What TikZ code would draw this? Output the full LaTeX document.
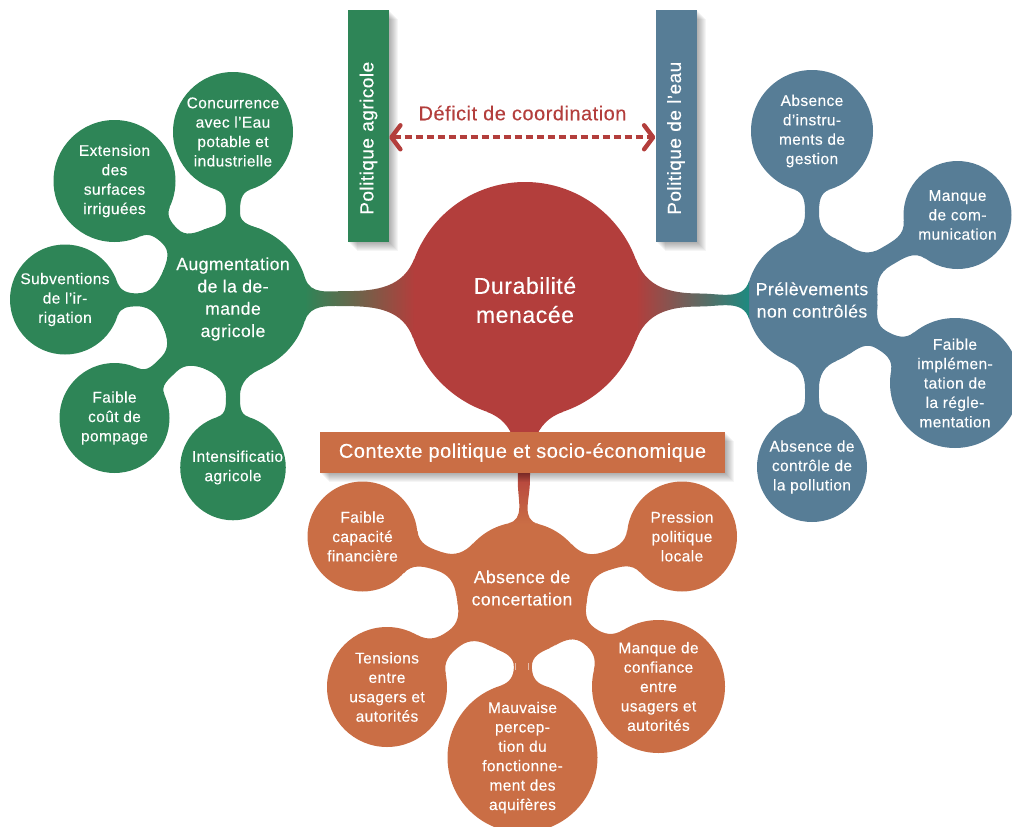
\documentclass[tikz,border=0pt]{standalone}
\usepackage{fontspec}
\setmainfont[FakeBold=0.25,LetterSpace=2.5]{Liberation Sans}
\usetikzlibrary{calc,shadows,arrows.meta}
\definecolor{grn}{HTML}{2E8557}
\definecolor{blu}{HTML}{577D96}
\definecolor{rd}{HTML}{B33E3C}
\definecolor{org}{HTML}{CA6E45}
\definecolor{teal2}{HTML}{1D8A80}
\definecolor{gmid}{HTML}{6E5040}
\definecolor{bmid}{HTML}{5C5558}
\newcommand\neckfill[7]{%
  \path let \p1=(#1.center),\p2=(#2.center),\n1={atan2(\y2-\y1,\x2-\x1)} in \pgfextra{\xdef\nkT{\n1}};
  \pgfmathsetmacro\nkTb{\nkT+180}%
  \pgfmathsetmacro\nkPa{\nkT+#5}\pgfmathsetmacro\nkPb{\nkT-#5}%
  \pgfmathsetmacro\nkQa{\nkT+180-#6}\pgfmathsetmacro\nkQb{\nkT+180+#6}%
  \pgfmathsetmacro\nkOa{\nkT+#5-90}\pgfmathsetmacro\nkIb{\nkT-#5+90}%
  \pgfmathsetmacro\nkIa{\nkT+270-#6}\pgfmathsetmacro\nkOb{\nkT+90+#6}%
  \pgfmathsetmacro\nkUp{\nkT+90}\pgfmathsetmacro\nkDn{\nkT-90}%
  \coordinate (nkm) at ($(#1.\nkT)!#7!(#2.\nkTb)$);
  \coordinate (nkp) at ($(nkm)+(\nkUp:#4/2)$);
  \coordinate (nkn) at ($(nkm)+(\nkDn:#4/2)$);
  \path[#3,looseness=1.05] (#1.\nkPa) to[out=\nkOa,in=\nkTb] (nkp) to[out=\nkT,in=\nkIa] (#2.\nkQa)
    -- (#2.\nkQb) to[out=\nkOb,in=\nkT] (nkn) to[out=\nkTb,in=\nkIb] (#1.\nkPb) -- cycle;
}
\tikzset{
  bub/.style={circle,inner sep=0pt,minimum size=2*#1,text=white,align=center,
     font=\fontsize{15.5}{19.4}\selectfont},
  hub/.style={circle,inner sep=0pt,minimum size=2*#1,text=white,align=center,
     font=\fontsize{17.6}{22.3}\selectfont},
  softshadow/.style={
     general shadow={fill=black,opacity=.04,shadow xshift=1pt,shadow yshift=-1pt},
     general shadow={fill=black,opacity=.04,shadow xshift=2pt,shadow yshift=-2pt},
     general shadow={fill=black,opacity=.04,shadow xshift=3pt,shadow yshift=-3pt},
     general shadow={fill=black,opacity=.04,shadow xshift=4pt,shadow yshift=-4pt},
     general shadow={fill=black,opacity=.04,shadow xshift=5pt,shadow yshift=-5pt},
     general shadow={fill=black,opacity=.04,shadow xshift=6pt,shadow yshift=-6pt},
     general shadow={fill=black,opacity=.04,shadow xshift=7pt,shadow yshift=-7pt},
     general shadow={fill=black,opacity=.04,shadow xshift=8pt,shadow yshift=-8pt},
     general shadow={fill=black,opacity=.04,shadow xshift=9pt,shadow yshift=-9pt}},
  polbox/.style={rectangle,rotate=90,text=white,softshadow,text width=178pt,align=left,
     inner xsep=27pt,inner ysep=0pt,minimum width=232pt,minimum height=41pt,
     font=\fontsize{19}{22}\selectfont},
  ctxbox/.style={rectangle,text=white,softshadow,fill=org,minimum width=405pt,minimum height=41pt,
     inner sep=0pt,font=\fontsize{20}{22}\selectfont},
  deflabel/.style={text=rd,inner sep=0pt,font=\fontsize{20}{22}\selectfont},
  defarrow/.style={draw=rd,line width=4pt,dash pattern=on 7pt off 4pt,
     {Straight Barb[length=9pt,width=24pt,line width=4.4pt,round,sep=0pt]}-{Straight Barb[length=9pt,width=24pt,line width=4.4pt,round,sep=0pt]}},
  tick/.style={draw=white,opacity=.55,line width=1pt}
}
\begin{document}
\begin{tikzpicture}[x=1pt,y=1pt]
\useasboundingbox (0,-827) rectangle (1012,0);
\clip (0,-827) rectangle (1012,0);
% central
\node[hub=118,fill=rd,font=\fontsize{23}{29}\selectfont] (dur) at (525,-300) {Durabilité\\menacée};
% green
\node[hub=75,fill=grn] (aug) at (233,-299) {Augmentation\\de la de-\\mande\\agricole};
\node[bub=60,fill=grn] (con) at (233,-132) {Concurrence\\avec l'Eau\\potable et\\industrielle};
\node[bub=61,fill=grn] (ext) at (114.5,-181) {Extension\\des\\surfaces\\irriguées};
\node[bub=55,fill=grn] (sub) at (65,-299.5) {Subventions\\de l'ir-\\rigation};
\node[bub=55,fill=grn] (cou) at (114.5,-418) {Faible\\coût de\\pompage};
\node[bub=52,fill=grn] (ins) at (233,-467.5) {\hspace*{9pt}Intensificatio\\agricole};
% blue
\node[hub=65.5,fill=blu] (pre) at (812,-300) {Prélèvements\\non contrôlés};
\node[bub=61,fill=blu] (ins2) at (812,-131) {Absence\\d'instru-\\ments de\\gestion};
\node[bub=54,fill=blu] (com) at (957.5,-215) {Manque\\de com-\\munication};
\node[bub=65,fill=blu] (imp) at (955,-383) {Faible\\implémen-\\tation de\\la régle-\\mentation};
\node[bub=55,fill=blu] (pol) at (812,-467) {Absence de\\contrôle de\\la pollution};
% orange
\node[hub=66,fill=org] (cnc) at (522,-588) {Absence de\\concertation};
\node[bub=55,fill=org] (cap) at (362.5,-536.5) {Faible\\capacité\\financière};
\node[bub=55,fill=org] (prs) at (682,-536.5) {Pression\\politique\\locale};
\node[bub=60,fill=org] (ten) at (387,-687) {Tensions\\entre\\usagers et\\autorités};
\node[bub=75,fill=org] (mau) at (522.5,-757.5) {Mauvaise\\percep-\\tion du\\fonctionne-\\ment des\\aquifères};
\node[bub=66.5,fill=org] (cfi) at (658.5,-686.5) {Manque de\\confiance\\entre\\usagers et\\autorités};
% necks
\neckfill{aug}{con}{fill=grn}{14}{24}{17}{.35}
\neckfill{aug}{ext}{fill=grn}{21}{24}{20}{.45}
\neckfill{aug}{sub}{fill=grn}{13}{24}{18}{.55}
\neckfill{aug}{cou}{fill=grn}{21}{24}{20}{.45}
\neckfill{aug}{ins}{fill=grn}{14}{24}{17}{.55}
\neckfill{pre}{ins2}{fill=blu}{14}{22}{17}{.5}
\neckfill{pre}{com}{fill=blu}{20}{26}{24}{.4}
\neckfill{pre}{imp}{fill=blu}{20}{26}{20}{.4}
\neckfill{pre}{pol}{fill=blu}{14}{22}{17}{.5}
\neckfill{cnc}{cap}{fill=org}{19}{25}{24}{.45}
\neckfill{cnc}{prs}{fill=org}{19}{25}{24}{.45}
\neckfill{cnc}{ten}{fill=org}{19}{25}{24}{.45}
\neckfill{cnc}{mau}{fill=org}{18}{24}{17}{.45}
\neckfill{cnc}{cfi}{fill=org}{19}{25}{22}{.45}
\neckfill{aug}{dur}{left color=grn,middle color=gmid,right color=rd}{15}{17}{20}{.38}
\neckfill{dur}{pre}{left color=rd,middle color=bmid,right color=teal2}{13}{20}{17}{.55}
\neckfill{dur}{cnc}{top color=rd,bottom color=org,middle color=rd}{12}{19}{13}{.62}
% marks in the neck
\coordinate (tka) at (515,-663); \coordinate (tkb) at (515,-670);
\coordinate (tkc) at (528,-663); \coordinate (tkd) at (528,-670);
\draw[tick] (tka) -- (tkb);
\draw[tick] (tkc) -- (tkd);
% boxes
\node[polbox,fill=grn] (pa) at (368.5,-125.7) {Politique agricole};
\node[polbox,fill=blu] (pe) at (676,-125.7) {Politique de l'eau};
\node[ctxbox] (ctx) at (522.5,-452.5) {Contexte politique et socio-économique};
\node[deflabel] (def) at (522.5,-113) {Déficit de coordination};
\coordinate (ay) at (0,-137.3);
\draw[defarrow] (pa.south |- ay) -- (pe.north |- ay);
\end{tikzpicture}
\end{document}
